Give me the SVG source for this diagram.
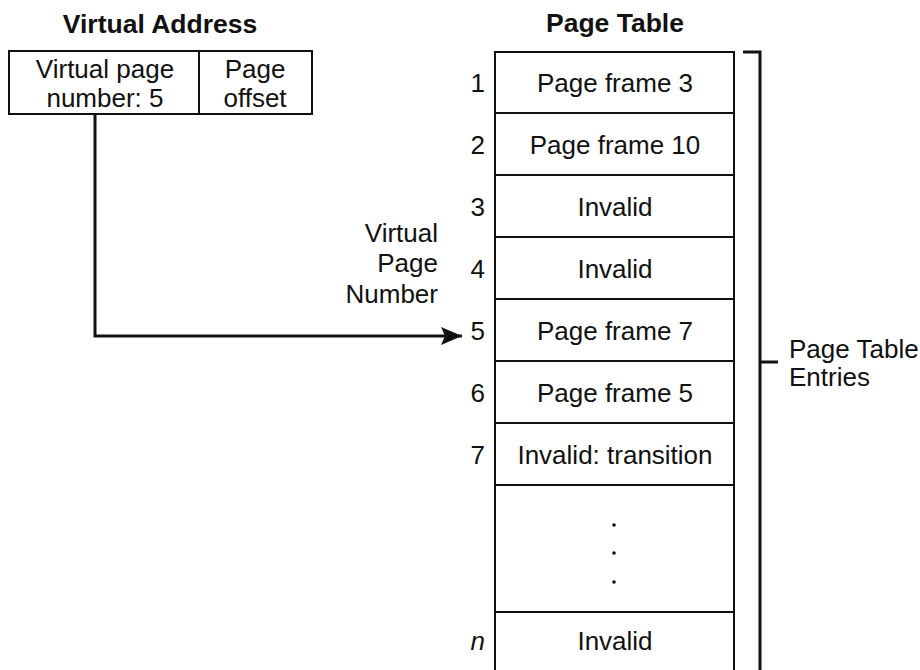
<svg xmlns="http://www.w3.org/2000/svg" width="920" height="670" viewBox="0 0 920 670">
  <style>
    text { font-family: "Liberation Sans", Arial, sans-serif; font-size: 26px; fill: #111; }
    .title { font-weight: bold; font-size: 26.5px; text-anchor: middle; }
    .mid { text-anchor: middle; }
    .num { text-anchor: end; }
    .box { fill: #fff; stroke: #111; stroke-width: 2; }
    .cell { fill: none; stroke: #111; stroke-width: 2; }
    .wire { fill: none; stroke: #111; stroke-width: 3; }
  </style>
  <defs>
    <marker id="arrow" markerUnits="userSpaceOnUse" markerWidth="24" markerHeight="18" refX="21" refY="9" orient="auto">
      <path d="M0,0 L21,9 L0,18 L4,9 Z" fill="#111"/>
    </marker>
  </defs>
  <rect width="920" height="670" fill="#fff"/>

  <!-- virtual address -->
  <g id="virtual-address">
    <text class="title" x="160" y="33">Virtual Address</text>
    <rect class="box" x="9" y="51" width="303" height="63"/>
    <line class="cell" x1="199" y1="51" x2="199" y2="114"/>
    <text class="mid" x="105" y="78">Virtual page</text>
    <text class="mid" x="105" y="107">number: 5</text>
    <text class="mid" x="255" y="78">Page</text>
    <text class="mid" x="255" y="107">offset</text>
  </g>

  <!-- connector: page number indexes the table -->
  <g id="connectors">
    <path class="wire" d="M95,114 V336 H462" marker-end="url(#arrow)"/>
  </g>
  <g id="vpn-label">
    <text class="num" x="438" y="242">Virtual</text>
    <text class="num" x="438" y="272">Page</text>
    <text class="num" x="438" y="303">Number</text>
  </g>

  <!-- page table -->
  <g id="page-table">
    <text class="title" x="615" y="32">Page Table</text>
    <rect class="box" x="495" y="52" width="239" height="630"/>
    <line class="cell" x1="495" y1="113" x2="734" y2="113"/>
    <line class="cell" x1="495" y1="175" x2="734" y2="175"/>
    <line class="cell" x1="495" y1="237" x2="734" y2="237"/>
    <line class="cell" x1="495" y1="299" x2="734" y2="299"/>
    <line class="cell" x1="495" y1="361" x2="734" y2="361"/>
    <line class="cell" x1="495" y1="423" x2="734" y2="423"/>
    <line class="cell" x1="495" y1="485" x2="734" y2="485"/>
    <line class="cell" x1="495" y1="612" x2="734" y2="612"/>
  </g>
  <g id="row-1"><text class="num" x="485" y="92">1</text><text class="mid" x="615" y="92">Page frame 3</text></g>
  <g id="row-2"><text class="num" x="485" y="154">2</text><text class="mid" x="615" y="154">Page frame 10</text></g>
  <g id="row-3"><text class="num" x="485" y="216">3</text><text class="mid" x="615" y="216">Invalid</text></g>
  <g id="row-4"><text class="num" x="485" y="278">4</text><text class="mid" x="615" y="278">Invalid</text></g>
  <g id="row-5"><text class="num" x="485" y="340">5</text><text class="mid" x="615" y="340">Page frame 7</text></g>
  <g id="row-6"><text class="num" x="485" y="402">6</text><text class="mid" x="615" y="402">Page frame 5</text></g>
  <g id="row-7"><text class="num" x="485" y="464">7</text><text class="mid" x="615" y="464">Invalid: transition</text></g>
  <g id="row-gap">
    <circle cx="614" cy="525" r="1.8" fill="#111"/>
    <circle cx="614" cy="553" r="1.8" fill="#111"/>
    <circle cx="614" cy="582" r="1.8" fill="#111"/>
  </g>
  <g id="row-n"><text class="num" x="485" y="650" font-style="italic">n</text><text class="mid" x="615" y="650">Invalid</text></g>

  <!-- bracket over all entries -->
  <g id="entries-bracket">
    <path class="wire" d="M743,52 H760 V680 M760,362 H778"/>
    <text x="789" y="358">Page Table</text>
    <text x="789" y="386">Entries</text>
  </g>
</svg>
